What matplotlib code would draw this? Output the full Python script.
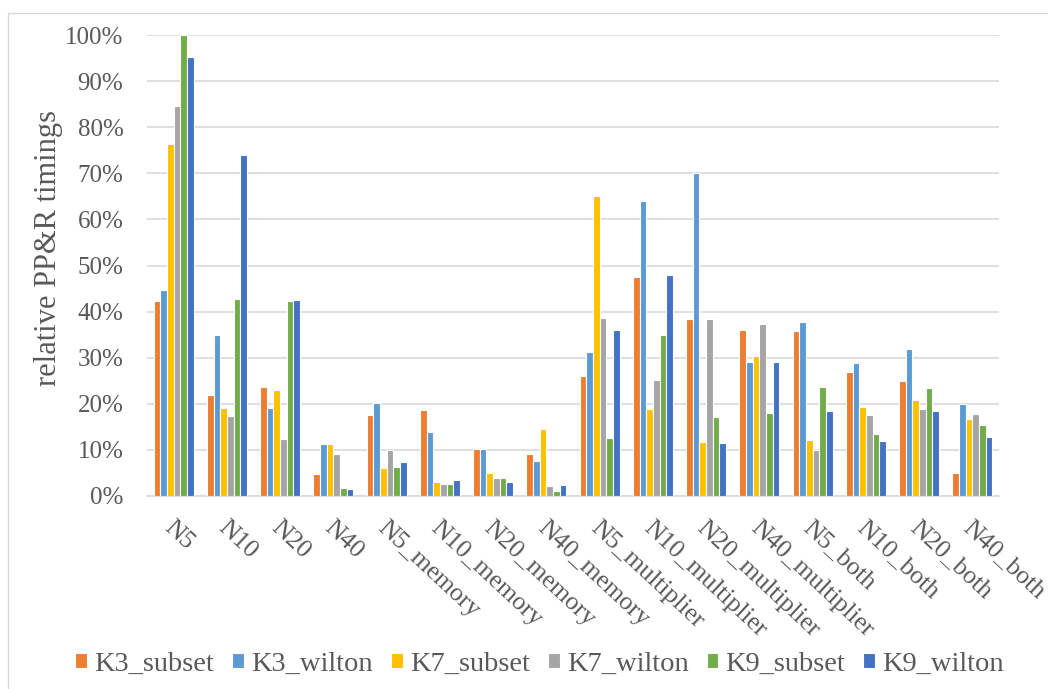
import matplotlib.pyplot as plt
import matplotlib.transforms as mtransforms
from matplotlib.patches import Rectangle
from matplotlib.ticker import PercentFormatter
import numpy as np

plt.rcParams['font.family'] = ['Liberation Serif', 'DejaVu Serif']

categories = ['N5', 'N10', 'N20', 'N40',
              'N5_memory', 'N10_memory', 'N20_memory', 'N40_memory',
              'N5_multiplier', 'N10_multiplier', 'N20_multiplier', 'N40_multiplier',
              'N5_both', 'N10_both', 'N20_both', 'N40_both']

series_names = ['K3_subset', 'K3_wilton', 'K7_subset', 'K7_wilton', 'K9_subset', 'K9_wilton']

k3_subset = [42.2, 21.9, 23.7, 4.8, 17.5, 18.7, 10.1, 9.1, 26.0, 47.6, 38.3, 36.0, 35.8, 26.8, 25.0, 5.0]
k3_wilton = [44.6, 35.0, 19.0, 11.3, 20.1, 13.9, 10.1, 7.7, 31.2, 64.0, 70.0, 29.0, 37.8, 28.8, 31.8, 19.9]
k7_subset = [76.3, 19.1, 23.1, 11.3, 6.1, 3.0, 4.9, 14.6, 65.0, 18.8, 11.7, 30.4, 12.2, 19.3, 20.8, 16.7]
k7_wilton = [84.6, 17.4, 12.4, 9.2, 9.9, 2.7, 3.8, 2.1, 38.7, 25.2, 38.4, 37.3, 9.9, 17.6, 18.8, 17.8]
k9_subset = [100.0, 42.8, 42.3, 1.8, 6.2, 2.7, 3.8, 1.1, 12.6, 35.0, 17.1, 18.0, 23.6, 13.5, 23.5, 15.5]
k9_wilton = [95.2, 73.9, 42.5, 1.5, 7.4, 3.5, 3.1, 2.3, 36.1, 47.9, 11.4, 29.1, 18.5, 12.0, 18.5, 12.7]

series = [k3_subset, k3_wilton, k7_subset, k7_wilton, k9_subset, k9_wilton]
colors = ['#ED7D31', '#5B9BD5', '#FFC000', '#A5A5A5', '#70AD47', '#4472C4']
text_color = '#595959'
grid_color = '#D9D9D9'

fig = plt.figure(figsize=(10.48, 6.89), dpi=100)

# light chart-area frame
fig.patches.append(Rectangle((8 / 1048, -0.1), 1.2, 1 - 13 / 689 + 0.1,
                             transform=fig.transFigure, fill=False,
                             edgecolor=grid_color, linewidth=1.0, zorder=0))

ax = fig.add_axes([147 / 1048, 1 - 496 / 689, 852 / 1048, 461 / 689])

x = np.arange(len(categories))
w = 0.125
for j, (name, vals, c) in enumerate(zip(series_names, series, colors)):
    ax.bar(x + (j - 2.5) * w, np.array(vals) / 100, width=w, color=c,
           edgecolor='white', linewidth=0.8, label=name, zorder=3)

ax.set_xlim(-0.5, len(categories) - 0.5)
ax.set_ylim(0, 1)
ax.set_yticks(np.arange(0, 1.01, 0.1))
ax.yaxis.set_major_formatter(PercentFormatter(1.0, decimals=0))
ax.yaxis.grid(True, color=grid_color, linewidth=1.2, zorder=0)
ax.set_axisbelow(True)
for s in ['top', 'right', 'left']:
    ax.spines[s].set_visible(False)
ax.spines['bottom'].set_color(grid_color)
ax.spines['bottom'].set_linewidth(1.2)
ax.tick_params(axis='both', length=0, labelsize=18, labelcolor=text_color, pad=17)

# rotated category labels hanging below each group
ax.set_xticks(x)
ax.set_xticklabels([])
trans = mtransforms.blended_transform_factory(ax.transData, ax.transAxes)
for i, cat in enumerate(categories):
    ax.text(i + 0.03, -0.045, cat, transform=trans, rotation=-43,
            rotation_mode='anchor', ha='left', va='top',
            fontsize=18.5, color=text_color)

ax.set_ylabel('relative PP&R timings', fontsize=22, color=text_color)
ax.yaxis.set_label_coords(-0.099, 0.538)

leg = fig.legend(loc='center', bbox_to_anchor=(0.515, 1 - 664 / 689), ncol=6,
                 frameon=False, fontsize=20.5, handlelength=0.42, handleheight=0.45,
                 handletextpad=0.25, columnspacing=0.63)
for t in leg.get_texts():
    t.set_color(text_color)

fig.savefig('out.png', dpi=100)
